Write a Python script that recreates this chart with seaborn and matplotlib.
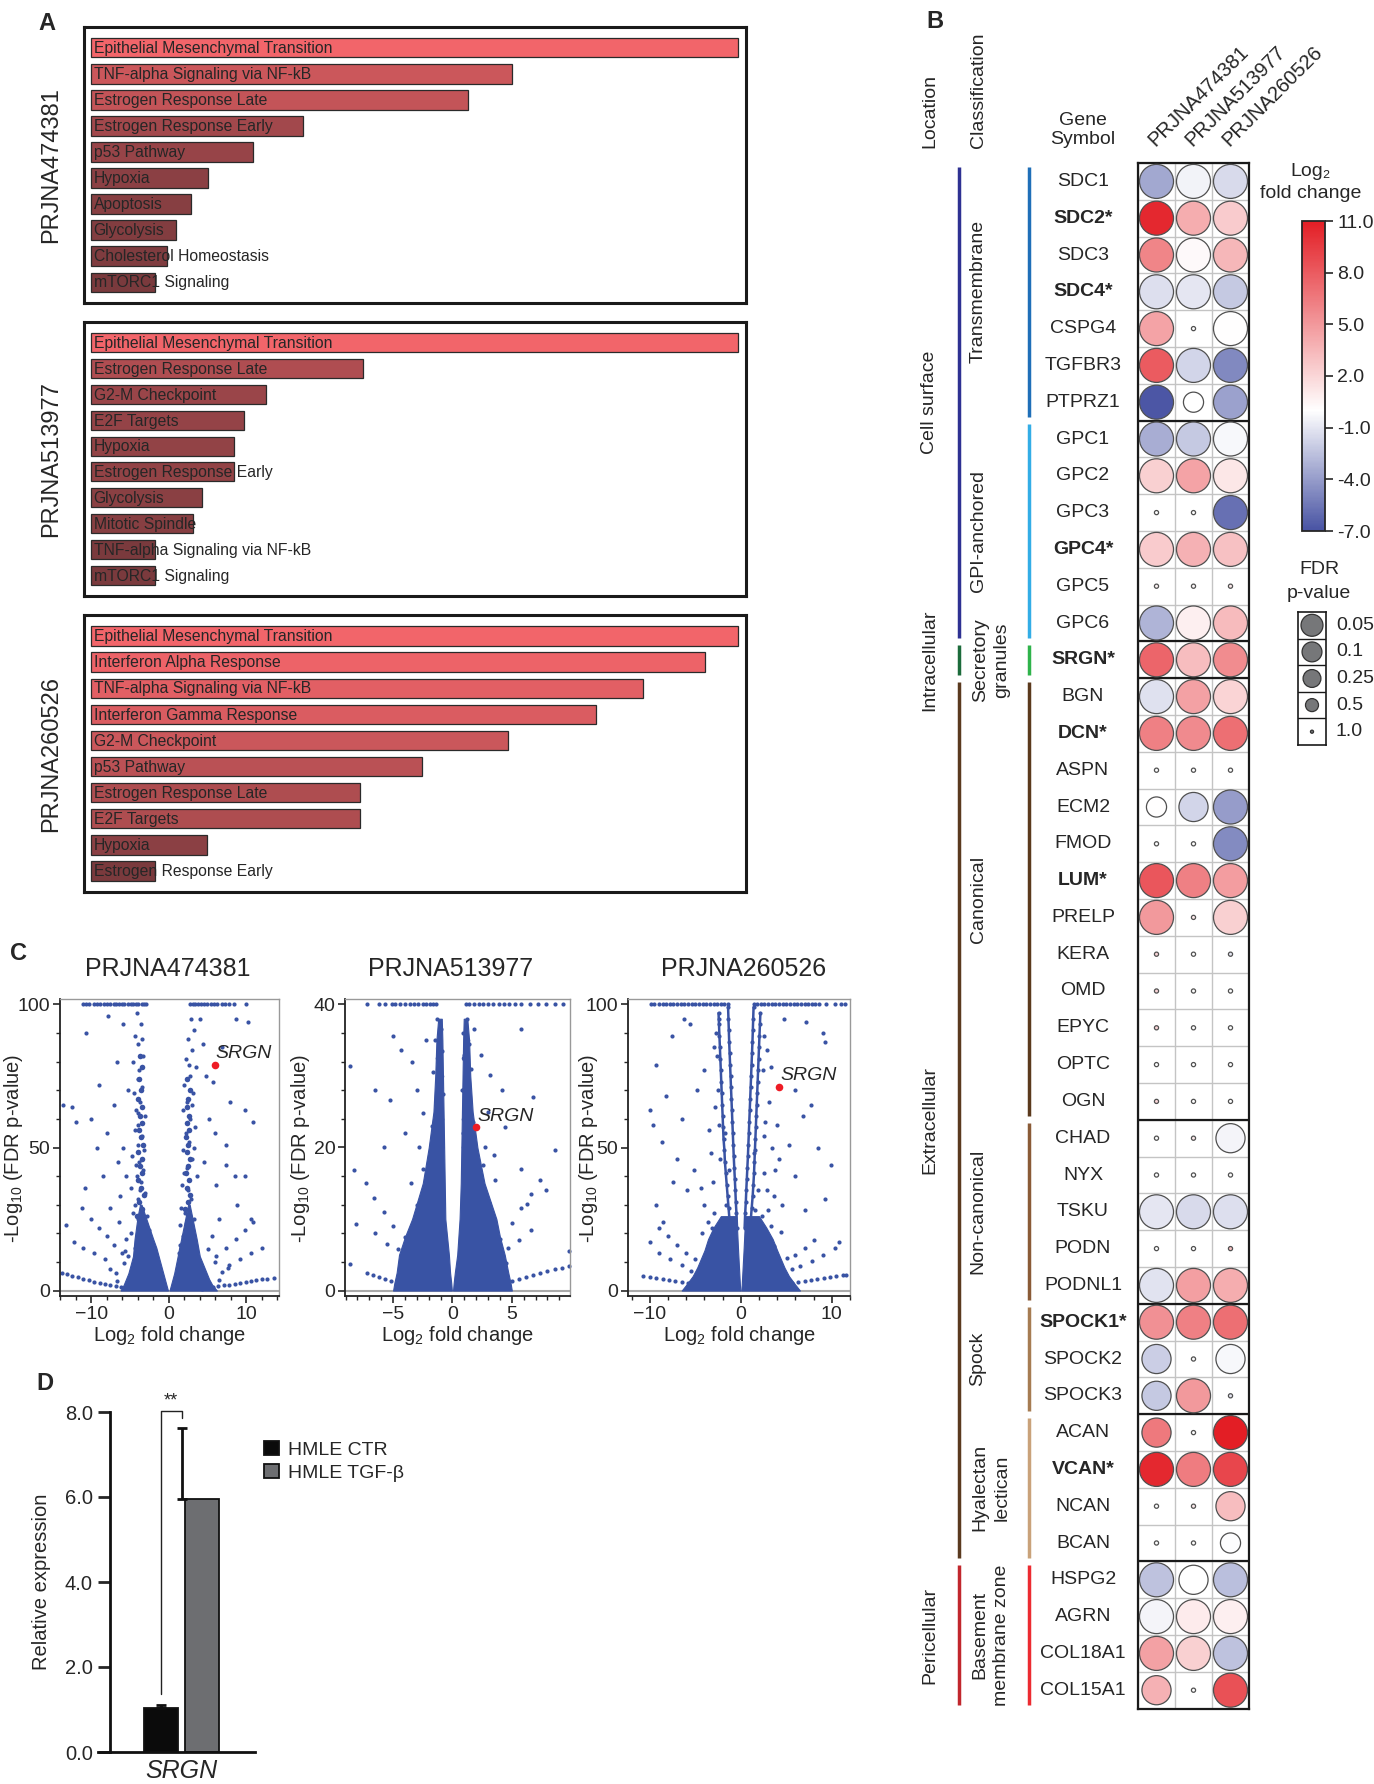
import numpy as np
import pandas as pd
import matplotlib
matplotlib.use('Agg')
import matplotlib.pyplot as plt
import seaborn as sns
from matplotlib.colors import LinearSegmentedColormap, Normalize
from matplotlib.cm import ScalarMappable
from matplotlib.ticker import MultipleLocator

W, H = 1374, 1784

sns.set_style('white')
plt.rcParams['font.family'] = ['Liberation Sans', 'DejaVu Sans']

# ---------------- data: panel A (hallmark enrichment, relative score) ----------------
datasets = ['PRJNA474381', 'PRJNA513977', 'PRJNA260526']

a1_terms = ['Epithelial Mesenchymal Transition', 'TNF-alpha Signaling via NF-kB',
            'Estrogen Response Late', 'Estrogen Response Early', 'p53 Pathway', 'Hypoxia',
            'Apoptosis', 'Glycolysis', 'Cholesterol Homeostasis', 'mTORC1 Signaling']
a1_vals = [1.0, 0.650, 0.582, 0.328, 0.251, 0.181, 0.154, 0.131, 0.118, 0.099]
a2_terms = ['Epithelial Mesenchymal Transition', 'Estrogen Response Late', 'G2-M Checkpoint',
            'E2F Targets', 'Hypoxia', 'Estrogen Response Early', 'Glycolysis',
            'Mitotic Spindle', 'TNF-alpha Signaling via NF-kB', 'mTORC1 Signaling']
a2_vals = [1.0, 0.420, 0.271, 0.236, 0.221, 0.221, 0.172, 0.158, 0.099, 0.099]
a3_terms = ['Epithelial Mesenchymal Transition', 'Interferon Alpha Response',
            'TNF-alpha Signaling via NF-kB', 'Interferon Gamma Response', 'G2-M Checkpoint',
            'p53 Pathway', 'Estrogen Response Late', 'E2F Targets', 'Hypoxia',
            'Estrogen Response Early']
a3_vals = [1.0, 0.949, 0.853, 0.781, 0.644, 0.511, 0.416, 0.416, 0.180, 0.099]

# ---------------- data: panel B (proteoglycan dot matrix) ----------------
genes = ['SDC1', 'SDC2*', 'SDC3', 'SDC4*', 'CSPG4', 'TGFBR3', 'PTPRZ1',
         'GPC1', 'GPC2', 'GPC3', 'GPC4*', 'GPC5', 'GPC6',
         'SRGN*',
         'BGN', 'DCN*', 'ASPN', 'ECM2', 'FMOD', 'LUM*', 'PRELP', 'KERA', 'OMD', 'EPYC', 'OPTC', 'OGN',
         'CHAD', 'NYX', 'TSKU', 'PODN', 'PODNL1',
         'SPOCK1*', 'SPOCK2', 'SPOCK3',
         'ACAN', 'VCAN*', 'NCAN', 'BCAN',
         'HSPG2', 'AGRN', 'COL18A1', 'COL15A1']
lfc_474381 = [-3.5, 10.5, 6.0, -1.3, 4.5, 8.0, -6.8,
              -3.3, 2.3, 0.0, 2.5, 0.5, -3.0,
              7.5,
              -1.2, 6.2, 0.0, 0.1, 0.0, 8.2, 5.0, 2.0, 2.0, 2.0, 0.0, 2.0,
              0.0, 0.0, -1.0, 0.0, -1.1,
              5.4, -2.0, -2.2,
              6.5, 10.5, 0.0, 0.0,
              -2.5, -0.4, 4.6, 3.8]
lfc_513977 = [-0.5, 4.0, 0.3, -1.0, 0.0, -1.7, 0.0,
              -2.2, 4.5, 0.0, 3.8, 0.3, 0.8,
              3.2,
              4.6, 5.7, 0.0, -1.7, 0.0, 6.2, 1.0, 0.0, 0.0, 0.0, 0.0, 0.0,
              1.0, 0.0, -1.5, 0.0, 4.7,
              6.2, 0.0, 5.0,
              0.0, 6.4, 1.0, 0.0,
              0.0, 1.0, 2.3, 0.0]
lfc_260526 = [-1.5, 2.5, 3.5, -2.2, 0.1, -4.8, -3.8,
              -0.3, 1.2, -5.8, 3.0, 1.0, 3.3,
              5.6,
              2.1, 7.0, 0.0, -4.0, -4.7, 4.8, 2.3, -1.0, 0.0, 0.0, 0.0, 0.0,
              -0.4, 0.0, -1.3, 3.0, 4.0,
              7.0, -0.3, -1.0,
              11.0, 9.0, 3.2, -0.1,
              -2.6, 0.8, -2.5, 8.5]
fdr_474381 = [0.05, 0.05, 0.05, 0.05, 0.05, 0.05, 0.05,
              0.05, 0.05, 1.0, 0.05, 1.0, 0.05,
              0.05,
              0.05, 0.05, 1.0, 0.25, 1.0, 0.05, 0.05, 1.0, 1.0, 1.0, 1.0, 1.0,
              1.0, 1.0, 0.05, 1.0, 0.05,
              0.05, 0.1, 0.1,
              0.1, 0.05, 1.0, 1.0,
              0.05, 0.05, 0.05, 0.1]
fdr_513977 = [0.05, 0.05, 0.05, 0.05, 1.0, 0.05, 0.25,
              0.05, 0.05, 1.0, 0.05, 1.0, 0.05,
              0.05,
              0.05, 0.05, 1.0, 0.1, 1.0, 0.05, 1.0, 1.0, 1.0, 1.0, 1.0, 1.0,
              1.0, 1.0, 0.05, 1.0, 0.05,
              0.05, 1.0, 0.05,
              1.0, 0.05, 1.0, 1.0,
              0.1, 0.05, 0.05, 1.0]
fdr_260526 = [0.05, 0.05, 0.05, 0.05, 0.05, 0.05, 0.05,
              0.05, 0.05, 0.05, 0.05, 1.0, 0.05,
              0.05,
              0.05, 0.05, 1.0, 0.05, 0.05, 0.05, 0.05, 1.0, 1.0, 1.0, 1.0, 1.0,
              0.1, 1.0, 0.05, 1.0, 0.05,
              0.05, 0.1, 1.0,
              0.05, 0.05, 0.1, 0.25,
              0.05, 0.05, 0.05, 0.05]

class_names = ['Transmembrane', 'GPI-anchored', 'Secretory\ngranules', 'Canonical',
               'Non-canonical', 'Spock', 'Hyalectan\nlectican', 'Basement\nmembrane zone']
class_counts = [7, 6, 1, 12, 5, 3, 4, 4]
class_colors = ['#1f6fb8', '#33ade6', '#2fb34b', '#5b3a1d', '#8a5b37', '#a67c52', '#c9a27a', '#ec2b31']
loc_names = ['Cell surface', 'Intracellular', 'Extracellular', 'Pericellular']
loc_counts = [13, 1, 24, 4]
loc_colors = ['#2e3192', '#1c6b3b', '#5a3a1f', '#c1272d']
fdr_levels = [0.05, 0.1, 0.25, 0.5, 1.0]
fc_ticks = [11, 8, 5, 2, -1, -4, -7]

# ---------------- data: panel C (volcano plots) ----------------
# outline of the saturated (solid blue) core: y, left-outer, left-inner, right-inner, right-outer
c1_core_y = [0, 2, 4, 6, 8, 10, 12, 15, 18, 22, 26, 30]
c1_core_lo = [-6.2, -5.8, -5.5, -5.2, -5.0, -4.8, -4.6, -4.5, -4.4, -4.2, -4.0, -3.7]
c1_core_li = [-0.1, -0.3, -0.5, -0.7, -0.9, -1.1, -1.3, -1.6, -2.0, -2.5, -3.0, -3.5]
c1_core_ri = [0.1, 0.3, 0.5, 0.7, 0.85, 1.0, 1.15, 1.35, 1.6, 1.9, 2.2, 2.5]
c1_core_ro = [6.2, 5.6, 5.2, 4.9, 4.6, 4.3, 4.0, 3.8, 3.6, 3.3, 3.0, 2.7]
c2_core_y = [0, 1, 2.5, 5, 7.5, 10, 15, 20, 25, 30, 35, 38]
c2_core_lo = [-5.0, -4.9, -4.7, -4.5, -4.0, -3.4, -2.5, -2.0, -1.6, -1.45, -1.35, -1.2]
c2_core_li = [-0.05, -0.1, -0.2, -0.3, -0.45, -0.6, -0.65, -0.7, -0.75, -0.8, -0.85, -0.9]
c2_core_ri = [0.05, 0.1, 0.2, 0.4, 0.5, 0.6, 0.7, 0.75, 0.8, 0.85, 0.9, 0.95]
c2_core_ro = [5.0, 4.9, 4.7, 4.4, 4.0, 3.7, 2.7, 2.1, 1.7, 1.5, 1.4, 1.25]
c3_core_y = [0, 2, 5, 8, 11, 14, 18, 22, 26]
c3_core_lo = [-6.5, -6.0, -5.3, -4.8, -4.4, -4.0, -3.6, -3.0, -2.2]
c3_core_li = [-0.05, -0.1, -0.15, -0.2, -0.25, -0.3, -0.36, -0.42, -0.5]
c3_core_ri = [0.05, 0.1, 0.15, 0.2, 0.25, 0.3, 0.36, 0.42, 0.5]
c3_core_ro = [6.5, 6.0, 5.3, 4.8, 4.4, 4.0, 3.5, 2.8, 2.0]

# scattered genes
c1_pts = [
    (-11.1, 100), (-10.7, 100), (-10.3, 100), (-9.6, 100), (-9.2, 100), (-8.9, 100), (-8.3, 100),
    (-7.9, 100), (-7.6, 100), (-7.1, 100), (-6.8, 100), (-6.4, 100), (-6.0, 100), (-5.7, 100),
    (-5.3, 100), (-4.9, 100), (-4.6, 100), (-4.2, 100), (-3.9, 100), (-3.5, 100), (-3.2, 100),
    (-2.9, 100), (2.7, 100), (3.1, 100), (3.4, 100), (3.8, 100), (4.2, 100), (4.5, 100), (4.9, 100),
    (5.4, 100), (5.8, 100), (6.2, 100), (6.9, 100), (7.3, 100), (7.7, 100), (8.4, 100), (10.0, 100),
    (-4.1, 97), (-3.6, 93), (-4.3, 89), (-3.9, 86), (-3.3, 82), (-4.6, 80), (-3.8, 77), (-4.0, 74),
    (-3.4, 71), (-4.5, 69), (-3.7, 66), (-4.2, 63), (-3.1, 61), (-3.9, 58), (-4.4, 56), (-3.5, 54),
    (-4.0, 51), (-3.2, 49), (-4.7, 47), (-3.8, 45), (-3.3, 42), (-4.1, 40), (-3.6, 38), (-4.9, 36),
    (-3.0, 34), (-3.9, 32), (-4.4, 30), (-3.4, 28), (-2.8, 26), (-4.0, 25), (-3.6, 23), (-2.6, 21),
    (-4.8, 20), (-3.1, 19), (-3.8, 17), (-2.4, 16), (-4.3, 15), (-3.3, 14), (-2.1, 13), (-5.2, 12),
    (-3.9, 62), (-3.5, 88), (-4.2, 44), (-3.7, 35), (-4.6, 27),
    (2.9, 95), (3.3, 91), (2.5, 88), (3.0, 84), (2.2, 81), (3.5, 78), (2.7, 75), (2.0, 72), (3.1, 69),
    (2.4, 66), (1.9, 63), (2.8, 60), (3.4, 57), (2.2, 55), (2.6, 52), (1.8, 49), (3.0, 46), (2.3, 43),
    (3.7, 40), (1.7, 37), (2.5, 35), (2.9, 32), (1.6, 29), (2.1, 27), (3.3, 25), (1.5, 23), (2.4, 21),
    (1.9, 19), (2.8, 17), (1.4, 16), (3.5, 15), (2.2, 14), (1.3, 13), (2.7, 12), (3.0, 65), (2.6, 79),
    (3.2, 50), (2.0, 41),
    (-6.0, 13), (-7.0, 16), (-8.0, 19), (-9.0, 22), (-10.0, 25), (-8.2, 11), (-9.6, 13), (-11.0, 15),
    (-12.2, 17), (6.1, 12), (7.4, 15), (8.6, 18), (9.8, 21), (10.8, 24), (7.8, 9), (9.2, 11), (10.6, 13),
    (12.0, 15), (-5.5, 18), (-6.4, 24), (5.6, 19), (6.5, 25), (-6.8, 6.0), (6.9, 6.5), (-5.8, 9.5),
    (6.0, 10.0), (-7.5, 7.5), (7.6, 8.0), (-6.6, 3.5), (6.5, 3.8), (-5.6, 14), (5.0, 14.5),
    (-13.8, 6.3), (-13.1, 5.7), (-12.4, 5.1), (-11.7, 4.6), (-11.0, 4.1), (-10.3, 3.6), (-9.6, 3.1),
    (-8.9, 2.7), (-8.2, 2.3), (-7.5, 1.9), (-6.8, 1.6), (-6.1, 1.3), (-5.4, 1.0), (4.3, 0.7), (5.0, 0.9),
    (5.7, 1.2), (6.4, 1.5), (7.1, 1.8), (7.8, 2.1), (8.5, 2.4), (9.2, 2.7), (9.9, 3.0), (10.6, 3.3),
    (11.3, 3.6), (12.0, 3.9), (12.7, 4.2), (13.5, 4.5),
    (-12.4, 64), (-11.9, 59), (-10.0, 60), (-10.7, 90), (-7.8, 96), (-5.9, 93), (-9.3, 50), (-10.8, 36),
    (-11.2, 29), (-13.2, 23), (-6.7, 80), (-7.0, 65), (-8.5, 40), (-7.6, 29), (-5.9, 50), (-5.5, 40),
    (-6.3, 33), (-13.6, 65), (-9.0, 72), (-5.2, 70), (-8.0, 55), (-6.5, 45),
    (7.9, 66), (8.6, 95), (10.2, 94), (9.8, 63), (10.8, 59), (7.4, 51), (8.5, 40), (9.8, 40), (10.6, 25),
    (5.7, 73), (4.8, 75), (4.0, 95), (4.4, 86), (6.1, 37), (7.4, 44), (5.2, 60), (6.0, 55), (4.6, 45),
    (8.8, 30), (6.8, 85)]
# dense streaks (drawn a little larger)
c1_arms = [
    (-3.5, 16), (-3.9, 18.5), (-3.3, 21), (-3.7, 23.5), (-4.1, 26), (-3.4, 28.5), (-3.8, 31),
    (-3.2, 33.5), (-3.6, 36), (-4.0, 38.5), (-3.4, 41), (-3.7, 43.5), (-3.5, 46), (-3.9, 48.5),
    (-3.3, 51), (-3.6, 53.5), (-3.8, 56), (-3.4, 58.5), (-3.7, 61), (-3.5, 64), (-3.9, 67), (-3.6, 70),
    (-3.8, 74), (-3.5, 78), (-3.7, 82),
    (2.4, 16), (2.0, 18.5), (2.7, 21), (2.3, 23.5), (2.6, 26), (2.1, 28.5), (2.5, 31), (2.8, 33.5),
    (2.3, 36), (2.6, 38.5), (2.2, 41), (2.5, 43.5), (2.7, 46), (2.3, 48.5), (2.5, 51), (2.2, 53.5),
    (2.6, 56), (2.4, 58.5), (2.6, 61), (2.3, 64), (2.5, 67), (2.7, 70), (2.4, 74)]

c2_pts = [
    (-7.2, 40), (-6.2, 40), (-5.7, 40), (-5.1, 40), (-4.8, 40), (-4.4, 40), (-4.0, 40), (-3.6, 40),
    (-3.2, 40), (-2.9, 40), (-2.5, 40), (-2.2, 40), (-1.9, 40), (-1.6, 40), (-1.4, 40),
    (1.1, 40), (1.4, 40), (1.8, 40), (2.2, 40), (2.6, 40), (3.0, 40), (3.4, 40), (3.9, 40), (4.3, 40),
    (4.8, 40), (5.3, 40), (5.8, 40), (6.5, 40), (7.2, 40), (7.9, 40), (8.6, 40), (9.3, 40),
    (-1.3, 38), (-1.0, 36.5), (-1.5, 35), (-0.9, 33.5), (-1.2, 32), (-1.6, 30.5), (-1.1, 29),
    (-0.8, 27.5), (-1.4, 26), (-1.0, 24.5), (-1.7, 23), (-1.2, 21.5), (-0.9, 20), (-1.5, 18.5),
    (1.2, 38), (0.9, 36), (1.4, 34.5), (1.0, 33), (1.6, 31), (1.2, 29.5), (0.8, 28), (1.3, 26.5),
    (1.1, 25), (1.7, 23.5), (0.9, 22), (1.4, 20.5), (1.0, 19),
    (-3.0, 12.0), (3.1, 12.3), (-1.9, 14.5), (2.0, 15.0), (-2.5, 17.0), (2.6, 17.5), (-3.5, 15),
    (3.6, 15.5), (-4.6, 5.8), (4.7, 6.0), (-4.4, 3.6), (4.5, 3.8), (-3.4, 9.0), (3.3, 9.5),
    (-2.2, 12.8), (2.3, 12.5), (-4.0, 7.5), (4.0, 7.2),
    (-5.0, 9.0), (-5.8, 11.0), (-6.6, 13.0), (-7.3, 15.0), (5.0, 9.5), (5.8, 11.5), (6.6, 13.5),
    (7.4, 15.5), (-5.5, 6.5), (5.6, 7.0), (-6.5, 8.0), (6.6, 8.5),
    (-7.2, 2.5), (-6.7, 2.2), (-6.2, 1.9), (-5.7, 1.6), (-5.2, 1.4), (-4.7, 1.1), (-4.2, 0.9),
    (-3.7, 0.7), (-3.2, 0.5), (3.2, 0.5), (3.8, 0.8), (4.4, 1.0), (5.0, 1.3), (5.6, 1.6), (6.2, 1.9),
    (6.8, 2.2), (7.4, 2.5), (8.0, 2.7), (8.6, 3.0), (9.2, 3.2), (9.8, 3.4),
    (-8.6, 31.4), (-3.4, 32), (-5.0, 35.6), (-4.3, 33.7), (1.8, 36.5), (5.8, 36.5), (3.2, 30.2),
    (4.2, 28.0), (8.6, 19.6), (5.8, 17.0), (-5.8, 20.0), (-8.3, 16.8), (-8.1, 9.3), (-8.6, 3.7),
    (-5.3, 26.6), (-2.5, 24.8), (2.7, 20.1), (4.4, 22.9), (6.3, 12.1), (7.9, 14.0), (9.8, 5.5),
    (-3.0, 28), (-2.2, 35), (2.4, 33), (3.0, 25), (-4.0, 22), (-6.5, 28), (6.8, 27), (-2.8, 20), (3.5, 19)]
c2_arms = [
    (-1.2, 11), (-1.7, 12), (-1.1, 13.5), (-1.3, 15), (-1.0, 16.5), (-1.2, 18), (-1.1, 20), (-1.3, 22),
    (-1.0, 24), (-1.2, 26), (-1.1, 28), (-1.0, 30), (-1.2, 32.5), (-1.1, 35),
    (1.1, 11), (1.5, 12), (1.0, 13.5), (1.2, 15), (1.0, 16.5), (1.1, 18), (1.0, 20), (1.2, 22),
    (1.0, 24), (1.1, 26), (1.0, 28), (1.1, 30), (1.0, 32.5), (1.2, 35)]

c3_pts = [
    (-9.9, 100), (-9.5, 100), (-9.0, 100), (-8.6, 100), (-8.2, 100), (-7.8, 100), (-7.4, 100),
    (-7.0, 100), (-6.6, 100), (-6.2, 100), (-5.8, 100), (-5.4, 100), (-5.0, 100), (-4.6, 100),
    (-4.2, 100), (-3.8, 100), (-3.4, 100), (-3.0, 100), (-2.6, 100), (-2.2, 100), (-1.8, 100),
    (-1.4, 100), (1.4, 100), (1.8, 100), (2.2, 100), (2.6, 100), (3.0, 100), (3.4, 100), (3.8, 100),
    (4.2, 100), (4.6, 100), (5.0, 100), (5.4, 100), (5.8, 100), (6.2, 100), (6.6, 100), (7.0, 100),
    (7.4, 100), (7.8, 100), (8.2, 100), (8.6, 100), (9.4, 100), (10.4, 100), (11.0, 100), (11.4, 100),
    (-2.4, 95), (-2.6, 82), (-2.5, 70), (-2.4, 58), (-2.3, 46), (2.5, 89), (2.4, 77), (2.7, 59),
    (2.5, 41), (2.3, 26),
    (-2.8, 13), (2.8, 13.5), (-3.6, 15), (3.6, 15.5), (-2.4, 18), (2.5, 18.5), (-5.0, 11), (5.1, 11.5),
    (-5.5, 7), (5.6, 7.5), (-3.2, 22), (3.3, 22.5), (-4.3, 20), (4.4, 20.5), (-2.9, 27), (3.0, 28),
    (-6.0, 13), (-7.0, 16), (-8.0, 19), (-9.0, 22), (-6.5, 9), (-7.8, 11), (-9.0, 13), (6.0, 12.5),
    (7.0, 15), (8.0, 17.5), (6.5, 8.5), (7.8, 10.5), (9.0, 12.5), (-10.0, 17), (10.4, 15),
    (-10.7, 5.2), (-10.0, 4.8), (-9.3, 4.4), (-8.6, 4.0), (-7.9, 3.6), (-7.2, 3.2), (-6.5, 2.9),
    (-5.8, 2.6), (-5.1, 2.3), (-4.5, 2.1), (4.2, 2.1), (4.9, 2.4), (5.6, 2.7), (6.3, 3.0), (7.0, 3.3),
    (7.7, 3.7), (8.4, 4.0), (9.1, 4.4), (9.8, 4.7), (10.5, 5.1), (11.2, 5.4), (11.6, 5.6),
    (-9.3, 79), (-7.6, 89), (-6.3, 95), (-5.6, 93), (-10.0, 63), (-9.6, 58), (-8.7, 52), (-8.2, 68),
    (-4.1, 77), (-4.8, 70), (-7.0, 46), (-9.3, 30), (-8.5, 24), (-5.9, 35), (-3.5, 56), (3.3, 78),
    (4.8, 95), (7.2, 94), (9.0, 90), (9.2, 87), (7.7, 65), (6.8, 61), (9.9, 44), (5.3, 51), (5.9, 40),
    (9.2, 32), (10.8, 17), (7.0, 28), (4.0, 58), (2.5, 54), (2.9, 35), (-6.5, 60), (-3.0, 85),
    (-5.2, 42), (-4.0, 30), (3.8, 42), (6.0, 70), (4.5, 30), (-7.5, 38), (8.5, 50),
    (-3.1, 38), (-2.8, 64), (-3.3, 48), (3.1, 66), (3.4, 50), (2.9, 84), (-2.7, 90), (-3.6, 24),
    (3.7, 33), (-4.4, 36), (4.2, 46), (-1.6, 30), (-1.3, 42), (-1.7, 55), (1.6, 28), (1.9, 35),
    (1.4, 48)]
# the four near-vertical streaks of PRJNA260526 (left inner/outer, right inner/outer)
c3_streak_li = [(-0.42, 22), (-0.48, 27), (-0.55, 31), (-0.6, 35), (-0.66, 39), (-0.72, 43),
                (-0.78, 47), (-0.83, 51), (-0.88, 55), (-0.93, 59), (-0.98, 63), (-1.03, 67),
                (-1.08, 71), (-1.13, 75), (-1.18, 79), (-1.23, 83), (-1.28, 87), (-1.32, 91),
                (-1.36, 95), (-1.4, 99)]
c3_streak_lo = [(-1.0, 17), (-1.1, 21), (-1.25, 25), (-1.35, 29), (-1.45, 33), (-1.55, 37),
                (-1.65, 41), (-1.75, 45), (-1.8, 49), (-1.9, 53), (-1.95, 57), (-2.0, 61),
                (-2.05, 65), (-2.1, 69), (-2.15, 73), (-2.2, 77), (-2.25, 81), (-2.3, 85),
                (-2.35, 89), (-2.4, 93), (-2.45, 97)]
c3_streak_ri = [(0.42, 22), (0.48, 27), (0.55, 31), (0.6, 35), (0.66, 39), (0.72, 43), (0.78, 47),
                (0.83, 51), (0.88, 55), (0.93, 59), (0.98, 63), (1.03, 67), (1.08, 71), (1.13, 75),
                (1.18, 79), (1.23, 83), (1.28, 87), (1.32, 91), (1.36, 95), (1.4, 99)]
c3_streak_ro = [(0.9, 17), (1.0, 21), (1.1, 25), (1.2, 29), (1.3, 33), (1.38, 37), (1.45, 41),
                (1.5, 45), (1.55, 49), (1.6, 53), (1.65, 57), (1.7, 61), (1.75, 65), (1.8, 69),
                (1.85, 73), (1.9, 77), (1.95, 81), (2.0, 85), (2.05, 89), (2.1, 93), (2.15, 97)]

srgn_pts = [(5.9, 79.0), (2.0, 22.8), (4.17, 71.2)]

# ---------------- data: panel D ----------------
d_groups = ['HMLE CTR', 'HMLE TGF-\u03b2']
d_means = [1.03, 5.95]
d_err = [0.07, 1.67]


def box(l, t, r, b):
    return [l / W, 1 - b / H, (r - l) / W, (b - t) / H]


fig = plt.figure(figsize=(W / 100, H / 100), dpi=100)

for lab, (px, py) in zip('ABCD', [(38, 12), (926, 10), (10, 942), (36, 1372)]):
    fig.text(px / W, 1 - py / H, lab, fontsize=17, fontweight='bold', ha='left', va='top')

# ================= panel A =================
bar_cmap = LinearSegmentedColormap.from_list('bars', ['#7a3a3d', '#f2656a'])
a_rows = [(27, 303), (322, 596), (615, 892)]
for (top, bot), name, terms, vals in zip(a_rows, datasets,
                                         [a1_terms, a2_terms, a3_terms],
                                         [a1_vals, a2_vals, a3_vals]):
    ax = fig.add_axes(box(84, top, 746, bot))
    df = pd.DataFrame({'term': terms, 'score': vals})
    cols = [bar_cmap(((v - 0.099) / 0.901) ** 0.8) for v in vals]
    sns.barplot(data=df, x='score', y='term', hue='term', palette=cols, orient='h',
                width=0.74, saturation=1, edgecolor='#2a2a2a', linewidth=0.9, legend=False, ax=ax)
    ax.set_xlim(-0.0108, 1.0124)
    ax.set_ylim(9.8, -0.8)
    ax.set_xticks([])
    ax.set_yticks([])
    ax.set_xlabel('')
    ax.set_ylabel('')
    for s in ax.spines.values():
        s.set_visible(True)
        s.set_linewidth(2.2)
        s.set_color('#1a1a1a')
    for i, t in enumerate(terms):
        ax.text(0.004, i + 0.03, t, va='center', ha='left', fontsize=11.3)
    fig.text(51 / W, 1 - (top + bot) / 2 / H, name, rotation=90, ha='center', va='center',
             fontsize=17)

# ================= panel C =================
volc_boxes = [(60, 279), (345, 570), (628, 850)]
volc_xlim = [(-14.0, 14.2), (-9.05, 9.9), (-12.4, 12.0)]
volc_ymax = [100, 40, 100]
volc_xmajor = [10, 5, 10]
volc_xminor = [2, 1, 2]
volc_yminor = [10, 4, 10]
title_x = [168, 451, 744]
ylab_x = [14, 301, 588]
blue = '#3953a4'
cores = [(c1_core_y, c1_core_lo, c1_core_li, c1_core_ri, c1_core_ro),
         (c2_core_y, c2_core_lo, c2_core_li, c2_core_ri, c2_core_ro),
         (c3_core_y, c3_core_lo, c3_core_li, c3_core_ri, c3_core_ro)]
streaks = [[], [], [c3_streak_li, c3_streak_lo, c3_streak_ri, c3_streak_ro]]
for k, (pts, arms) in enumerate([(c1_pts, c1_arms), (c2_pts, c2_arms), (c3_pts, [])]):
    l, r = volc_boxes[k]
    ymax = volc_ymax[k]
    ax = fig.add_axes(box(l, 999, r, 1296))
    cy, clo, cli, cri, cro = cores[k]
    ax.fill_betweenx(cy, clo, cli, color=blue, lw=0.8, ec=blue)
    ax.fill_betweenx(cy, cri, cro, color=blue, lw=0.8, ec=blue)
    for st in streaks[k]:
        sdf = pd.DataFrame(st, columns=['lfc', 'nlp'])
        sns.lineplot(data=sdf, x='lfc', y='nlp', sort=False, estimator=None, color=blue,
                     lw=1.8, ax=ax)
        sns.scatterplot(data=sdf, x='lfc', y='nlp', s=9, color=blue, linewidth=0, ax=ax)
    if arms:
        sns.scatterplot(data=pd.DataFrame(arms, columns=['lfc', 'nlp']), x='lfc', y='nlp',
                        s=16, color=blue, linewidth=0, ax=ax)
    sns.scatterplot(data=pd.DataFrame(pts, columns=['lfc', 'nlp']), x='lfc', y='nlp',
                    s=9, color=blue, linewidth=0, ax=ax, clip_on=False)
    hx, hy = srgn_pts[k]
    sns.scatterplot(x=[hx], y=[hy], s=30, color='#ee1c25', linewidth=0, ax=ax, zorder=5)
    ax.annotate('SRGN', (hx, hy), xytext=(1, 2), textcoords='offset points',
                fontsize=14, fontstyle='italic', ha='left', va='bottom')
    ax.axhline(0, color='#aaaaaa', lw=1.5, zorder=0)
    ax.set_xlim(*volc_xlim[k])
    ax.set_ylim(-0.019 * ymax, 1.019 * ymax)
    ax.set_yticks([0, ymax / 2, ymax])
    ax.set_yticklabels([str(int(v)) for v in [0, ymax / 2, ymax]])
    ax.xaxis.set_major_locator(MultipleLocator(volc_xmajor[k]))
    ax.xaxis.set_minor_locator(MultipleLocator(volc_xminor[k]))
    ax.yaxis.set_minor_locator(MultipleLocator(volc_yminor[k]))
    ax.tick_params(which='major', direction='out', length=5, width=1.2, labelsize=14, pad=2,
                   left=True, bottom=True)
    ax.tick_params(which='minor', direction='out', length=3, width=1.0, left=True, bottom=True)
    for side in ['left', 'bottom']:
        ax.spines[side].set_color('#222222')
        ax.spines[side].set_linewidth(1.3)
    for side in ['top', 'right']:
        ax.spines[side].set_color('#999999')
        ax.spines[side].set_linewidth(1.0)
    ax.set_xlabel(r'Log$\mathregular{_2}$ fold change', fontsize=14.5, labelpad=1)
    ax.set_ylabel('')
    fig.text(ylab_x[k] / W, 1 - 1148 / H, r'-Log$\mathregular{_{10}}$ (FDR p-value)',
             rotation=90, ha='center', va='center', fontsize=14.5)
    fig.text(title_x[k] / W, 1 - 969 / H, datasets[k], ha='center', va='center', fontsize=18)

# ================= panel D =================
ax = fig.add_axes(box(98, 1412, 255, 1752))
sns.barplot(x=['SRGN', 'SRGN'], y=d_means, hue=d_groups, palette=['#0b0b0b', '#6d6e71'],
            width=0.8, gap=0.17, saturation=1, edgecolor='#111111', linewidth=1.3, ax=ax)
handles, labels = ax.get_legend_handles_labels()
if ax.get_legend() is not None:
    ax.get_legend().remove()
bars = sorted(ax.patches, key=lambda p: p.get_x())[:2]
centers = [p.get_x() + p.get_width() / 2 for p in bars]
ax.errorbar(centers, d_means, yerr=[[0, 0], d_err], fmt='none', ecolor='#111111',
            elinewidth=2, capsize=3.6, capthick=2, zorder=4)
tops = [m + e for m, e in zip(d_means, d_err)]
br_top = max(tops) + 0.4
ax.plot([centers[0], centers[0], centers[1], centers[1]],
        [tops[0] + 0.27, br_top, br_top, tops[1] + 0.25], color='#222222', lw=1, clip_on=False)
ax.text(sum(centers) / 2, br_top + 0.05, '**', ha='center', va='bottom', fontsize=13)
ax.set_xlim(-0.815, 0.717)
ax.set_ylim(0, 8)
ax.set_yticks([0, 2, 4, 6, 8])
ax.set_yticklabels(['%.1f' % v for v in [0, 2, 4, 6, 8]])
ax.spines['left'].set_position(('data', -0.698))
ax.spines['left'].set_bounds(0, 8)
for side in ['top', 'right']:
    ax.spines[side].set_visible(False)
for side in ['left', 'bottom']:
    ax.spines[side].set_linewidth(2)
    ax.spines[side].set_color('#111111')
ax.tick_params(axis='y', direction='out', length=8.5, width=2, labelsize=14.5, pad=4, left=True)
ax.tick_params(axis='x', length=0, pad=5)
ax.set_xticks([0])
ax.set_xticklabels(['SRGN'], fontsize=18, fontstyle='italic')
ax.set_xlabel('')
ax.set_ylabel('Relative expression', fontsize=14.5, labelpad=10)
fig.legend(handles, labels, loc='upper left', bbox_to_anchor=(264 / W, 1 - 1441 / H),
           frameon=False, fontsize=14, handlelength=0.75, handleheight=0.75,
           handletextpad=0.5, labelspacing=0.25, borderpad=0, borderaxespad=0)

# ================= panel B =================
ROWH = 36.8
COLW = 37.0
GX0, GY0 = 1138, 163
n = len(genes)
ax = fig.add_axes(box(GX0, GY0, GX0 + 3 * COLW, GY0 + n * ROWH))


def ux(px):
    return (px - GX0) / COLW


def uy(py):
    return (py - GY0) / ROWH


fc_cmap = LinearSegmentedColormap.from_list(
    'fc', [(0.0, '#4853a3'), (7 / 18, '#ffffff'), (1.0, '#e31e25')])
fc_norm = Normalize(vmin=-7, vmax=11)
fdr_sizes = {0.05: 600, 0.1: 440, 0.25: 210, 0.5: 90, 1.0: 9}

recs = []
for j, (lv, fv) in enumerate(zip([lfc_474381, lfc_513977, lfc_260526],
                                 [fdr_474381, fdr_513977, fdr_260526])):
    for i in range(n):
        recs.append({'col': j + 0.5, 'row': i + 0.5, 'lfc': lv[i], 'fdr': fv[i]})
bdf = pd.DataFrame(recs)

for i in range(n + 1):
    ax.axhline(i, color='#c4c4c4', lw=1, zorder=1)
for j in range(4):
    ax.axvline(j, color='#c4c4c4', lw=1, zorder=1)
bounds = np.cumsum(class_counts)
for b in bounds[:-1]:
    ax.axhline(b, color='#1a1a1a', lw=1.6, zorder=2)

sns.scatterplot(data=bdf, x='col', y='row', hue='lfc', palette=fc_cmap, hue_norm=fc_norm,
                size='fdr', sizes=fdr_sizes, edgecolor='#505050', linewidth=0.9,
                legend=False, ax=ax, zorder=3)
ax.set_xlim(0, 3)
ax.set_ylim(n, 0)
ax.set_xticks([])
ax.set_yticks([])
ax.set_xlabel('')
ax.set_ylabel('')
for s in ax.spines.values():
    s.set_visible(True)
    s.set_linewidth(1.6)
    s.set_color('#1a1a1a')

for i, g in enumerate(genes):
    ax.text(ux(1083), i + 0.5, g, ha='center', va='center', fontsize=14,
            fontweight='bold' if g.endswith('*') else 'normal', clip_on=False)

start = 0
for name, cnt, col in zip(class_names, class_counts, class_colors):
    ax.plot([ux(1029), ux(1029)], [start + 0.1, start + cnt - 0.1], color=col, lw=2.5,
            clip_on=False, solid_capstyle='butt')
    nl = name.count('\n')
    ax.text(ux(978 + 13 * nl), start + cnt / 2, name, rotation=90, ha='center', va='center',
            fontsize=14, linespacing=1.35, clip_on=False)
    start += cnt
start = 0
for name, cnt, col in zip(loc_names, loc_counts, loc_colors):
    ax.plot([ux(959), ux(959)], [start + 0.1, start + cnt - 0.1], color=col, lw=2.5,
            clip_on=False, solid_capstyle='butt')
    ax.text(ux(930), start + cnt / 2, name, rotation=90, ha='center', va='center',
            fontsize=14, clip_on=False)
    start += cnt

ax.text(ux(930), uy(148), 'Location', rotation=90, ha='center', va='bottom', fontsize=14,
        clip_on=False)
ax.text(ux(978), uy(148), 'Classification', rotation=90, ha='center', va='bottom',
        fontsize=14, clip_on=False)
ax.text(ux(1083), uy(148), 'Gene\nSymbol', ha='center', va='bottom', fontsize=14,
        linespacing=1.15, clip_on=False)
for j, name in enumerate(datasets):
    ax.text(j + 0.55, uy(150), name, rotation=45, rotation_mode='anchor', ha='left',
            va='bottom', fontsize=14.5, clip_on=False)

# colour bar
cax = fig.add_axes(box(1302, 221, 1325, 531))
cb = fig.colorbar(ScalarMappable(norm=fc_norm, cmap=fc_cmap), cax=cax, ticks=fc_ticks)
cb.ax.set_yticklabels(['%.1f' % v for v in fc_ticks])
cb.ax.tick_params(labelsize=14, length=6, width=1.2, direction='out', pad=3)
cb.outline.set_linewidth(1.3)
fig.text(1311 / W, 1 - 171 / H, 'Log\u2082', ha='center', va='center', fontsize=14)
fig.text(1311 / W, 1 - 194 / H, 'fold change', ha='center', va='center', fontsize=14)

# FDR size legend
lax = fig.add_axes(box(1298, 612, 1326, 745))
ldf = pd.DataFrame({'x': [0.5] * len(fdr_levels), 'y': [i + 0.5 for i in range(len(fdr_levels))],
                    'fdr': fdr_levels})
sns.scatterplot(data=ldf, x='x', y='y', size='fdr',
                sizes={0.05: 250, 0.1: 205, 0.25: 165, 0.5: 88, 1.0: 5},
                color='#767779', edgecolor='#333333', linewidth=0.9, legend=False, ax=lax)
lax.set_xlim(0, 1)
lax.set_ylim(len(fdr_levels), 0)
for i in range(1, len(fdr_levels)):
    lax.axhline(i, color='#1a1a1a', lw=1)
lax.set_xticks([])
lax.set_yticks([])
lax.set_xlabel('')
lax.set_ylabel('')
for s in lax.spines.values():
    s.set_visible(True)
    s.set_linewidth(1.2)
    s.set_color('#1a1a1a')
for i, v in enumerate(fdr_levels):
    lax.text(1.35, i + 0.5, str(v), ha='left', va='center', fontsize=14, clip_on=False)
fig.text(1319 / W, 1 - 569 / H, 'FDR', ha='center', va='center', fontsize=14)
fig.text(1319 / W, 1 - 594 / H, 'p-value', ha='center', va='center', fontsize=14)

fig.savefig('out.png', dpi=100)
